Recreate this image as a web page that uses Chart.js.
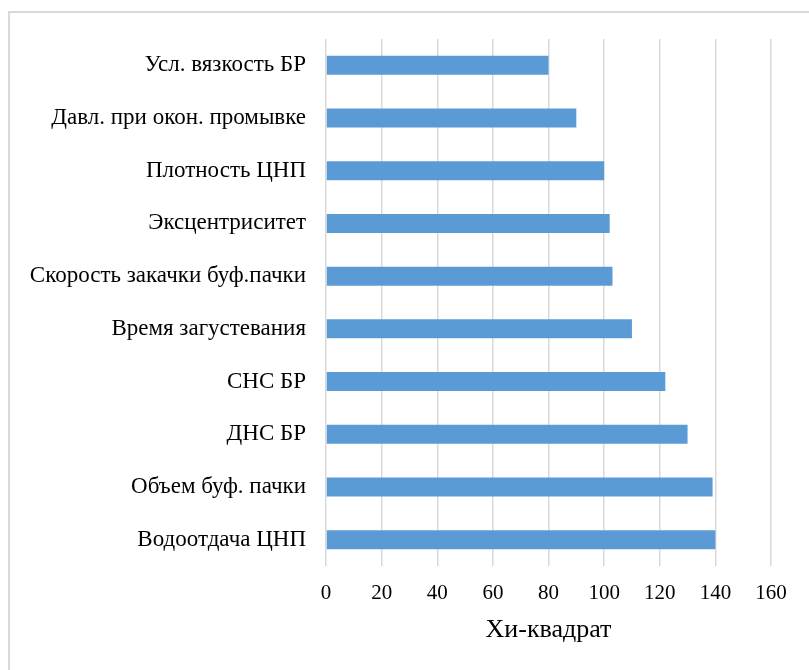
<!DOCTYPE html>
<html>
<head>
<meta charset="utf-8">
<script src="https://cdn.jsdelivr.net/npm/chart.js@4"></script>
<style>
  html, body { margin: 0; padding: 0; background: #fff; }
  body { width: 809px; height: 670px; position: relative; overflow: hidden; }
  #frame { position: absolute; left: 8px; top: 11px; width: 820px; height: 680px; border-left: 2px solid #d9d9d9; border-top: 2px solid #d9d9d9; box-sizing: border-box; }
  #wrap { position: absolute; left: 0; top: 0; width: 809px; height: 670px; }
</style>
</head>
<body>
<div id="frame"></div>
<div id="wrap"><canvas id="c" width="809" height="670"></canvas></div>
<script>
const categories = [
  "Усл. вязкость БР",
  "Давл. при окон. промывке",
  "Плотность ЦНП",
  "Эксцентриситет",
  "Скорость закачки буф.пачки",
  "Время загустевания",
  "СНС БР",
  "ДНС БР",
  "Объем буф. пачки",
  "Водоотдача ЦНП"
];
const chiSquare = [80, 90, 100, 102, 103, 110, 122, 130, 139, 140];
const xTicks = [0, 20, 40, 60, 80, 100, 120, 140, 160];
const xTitle = "Хи-квадрат";

const FONT = "'Liberation Serif', 'Times New Roman', serif";

new Chart(document.getElementById('c'), {
  type: 'bar',
  data: {
    labels: categories,
    datasets: [{
      data: chiSquare,
      backgroundColor: '#5b9bd5',
      borderWidth: 0,
      categoryPercentage: 1.0,
      barPercentage: 0.36
    }]
  },
  options: {
    indexAxis: 'y',
    responsive: false,
    animation: false,
    devicePixelRatio: 1,
    layout: { padding: { left: 0, right: 38, top: 39, bottom: 20 } },
    plugins: { legend: { display: false }, tooltip: { enabled: false } },
    scales: {
      x: {
        min: xTicks[0],
        max: xTicks[xTicks.length - 1],
        afterBuildTicks: (axis) => { axis.ticks = xTicks.map(v => ({ value: v })); },
        afterFit: (axis) => { axis.height = 84; },
        grid: { color: '#d9d9d9', lineWidth: 1.5, drawTicks: false },
        border: { display: false },
        ticks: { color: '#000', font: { family: FONT, size: 21 }, padding: 15, maxRotation: 0 },
        title: { display: true, text: xTitle, color: '#000', font: { family: FONT, size: 26 }, padding: { top: 4, bottom: 4 } }
      },
      y: {
        afterFit: (axis) => { axis.width = 326; },
        grid: { display: false, drawTicks: false },
        border: { display: false },
        ticks: { color: '#000', font: { family: FONT, size: 23 }, padding: 20 }
      }
    }
  }
});
</script>
</body>
</html>
